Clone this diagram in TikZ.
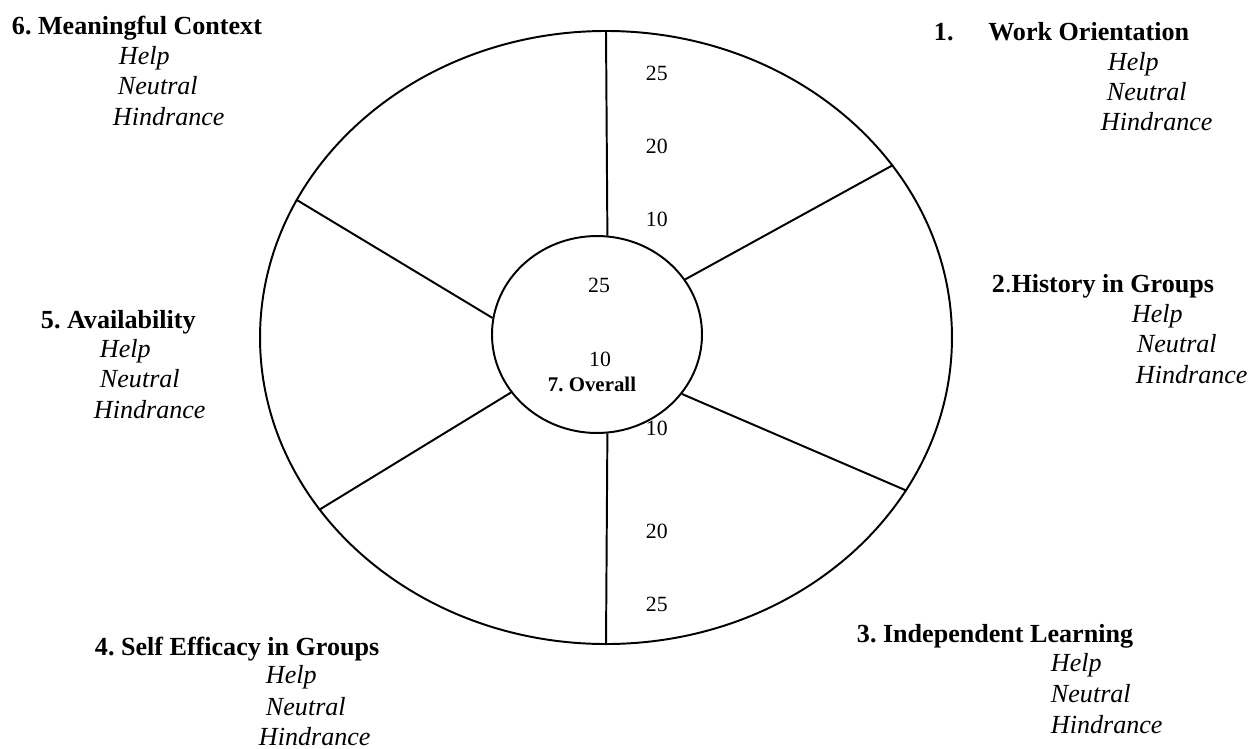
\documentclass[tikz,border=0pt]{standalone}
\usepackage{fontspec}
\setmainfont{Liberation Serif}
\usetikzlibrary{shapes.geometric}
\frenchspacing

\begin{document}
\begin{tikzpicture}[x=0.46pt, y=-0.46pt, line width=0.9pt,
  every node/.style={inner sep=0pt},
  factor/.style={anchor=base west, font=\fontsize{12}{14}\selectfont\bfseries},
  rating/.style={anchor=base west, font=\fontsize{12}{14}\selectfont\itshape},
  scalenum/.style={anchor=base west, font=\fontsize{10}{12}\selectfont}]
\useasboundingbox (0,0) rectangle (1253,749);
% wheel
\node[draw, ellipse, minimum width=318.3pt, minimum height=282pt] (outer) at (606,337.5) {};
\node[draw, ellipse, minimum width=96.6pt, minimum height=90.6pt] (inner) at (597,334.5) {};
% spokes
\draw (inner.84) -- (outer.90);
\draw (inner.-84) -- (outer.-90);
\draw (inner.32) -- (outer.31);
\draw (inner.-35) -- (outer.-27);
\draw (inner.171) -- (outer.156.4);
\draw (inner.214.8) -- (outer.211);
% scale numbers
\node[scalenum] (top25) at (645,80) {25};
\node[scalenum] (top20) at (645,153) {20};
\node[scalenum] (top10) at (645,226) {10};
\node[scalenum] (bot10) at (645,435) {10};
\node[scalenum] (bot20) at (645,538) {20};
\node[scalenum] (bot25) at (645,611) {25};
\node[scalenum, anchor=base] (mid25) at (599,292) {25};
\node[scalenum, anchor=base] (mid10) at (600,366) {10};
\node[anchor=base, font=\fontsize{9.6}{11}\selectfont\bfseries] (overall) at (592,391) {7. Overall};
% factors
\node[factor] (f1) at (933,40) {1.\hspace{16pt}Work Orientation};
\node[rating] (h1) at (1107,70) {Help};
\node[rating] (n1) at (1106,100) {Neutral};
\node[rating] (d1) at (1100,130) {Hindrance};
\node[factor] (f2) at (991,292) {2\textmd{.}History in Groups};
\node[rating] (h2) at (1131,322) {Help};
\node[rating] (n2) at (1136,352) {Neutral};
\node[rating] (d2) at (1135,383) {Hindrance};
\node[factor] (f3) at (856,642) {3. Independent Learning};
\node[rating] (h3) at (1050,671) {Help};
\node[rating] (n3) at (1050,702) {Neutral};
\node[rating] (d3) at (1050,733) {Hindrance};
\node[factor] (f4) at (94,655) {4. Self Efficacy in Groups};
\node[rating] (h4) at (265,683) {Help};
\node[rating] (n4) at (265,715) {Neutral};
\node[rating] (d4) at (258,745) {Hindrance};
\node[factor] (f5) at (40,328) {5. Availability};
\node[rating] (h5) at (99,357) {Help};
\node[rating] (n5) at (99,387) {Neutral};
\node[rating] (d5) at (93,418) {Hindrance};
\node[factor] (f6) at (11,34) {6. Meaningful Context};
\node[rating] (h6) at (118,64) {Help};
\node[rating] (n6) at (117,94) {Neutral};
\node[rating] (d6) at (112,125) {Hindrance};
\end{tikzpicture}
\end{document}
